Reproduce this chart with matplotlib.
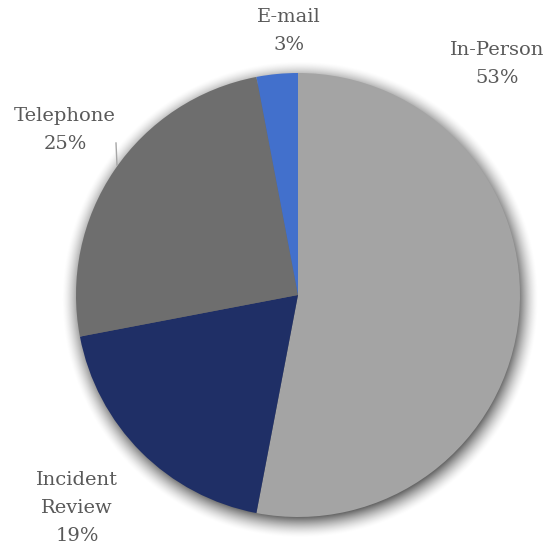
#!/usr/bin/env python3

import numpy as np
import matplotlib.pyplot as plt

labels = ['In-Person', 'Incident\nReview', 'Telephone', 'E-mail']
shares = [53, 19, 25, 3]
colors = ['#A4A4A4', '#1F2F66', '#6E6E6E', '#4270CC']

W, H = 557, 551
fig = plt.figure(figsize=(W / 100, H / 100), dpi=100)
fig.patch.set_facecolor('white')

# pie centred at (298, 295) px with radius 222 px, axes padded by 30%
cx, cy, r = 298, 295, 222
pad = 1.3
ax = fig.add_axes([(cx - pad * r) / W, (H - cy - pad * r) / H,
                   2 * pad * r / W, 2 * pad * r / H])
ax.axis('off')

# soft drop shadow behind the pie
g = np.linspace(-pad, pad, 600)
X, Y = np.meshgrid(g, g)
d = np.hypot(X - 0.01, Y + 0.02)
alpha = np.clip((1.075 - d) / 0.095, 0, 1) ** 1.6 * 0.6
shadow = np.zeros((600, 600, 4))
shadow[..., 3] = alpha
ax.imshow(shadow, extent=(-pad, pad, -pad, pad), origin='lower', zorder=0,
          interpolation='bilinear')

ax.pie(shares, colors=colors, startangle=90, counterclock=False, radius=1,
       wedgeprops=dict(linewidth=0), frame=False)
ax.set_xlim(-pad, pad)
ax.set_ylim(-pad, pad)
ax.set_aspect('equal')

txt = dict(fontsize=14, color='#595959', family='DejaVu Serif',
           ha='center', va='center', linespacing=1.72)
pct = ['%d%%' % s for s in shares]
fig.text(497 / W, 1 - 64 / H, labels[0] + '\n' + pct[0], **txt)
fig.text(289 / W, 1 - 31 / H, labels[3] + '\n' + pct[3], **txt)
fig.text(65 / W, 1 - 130 / H, labels[2] + '\n' + pct[2], **txt)
fig.text(77 / W, 1 - 508 / H, labels[1] + '\n' + pct[1], **txt)

# leader line for the telephone label
fig.add_artist(plt.Line2D([116 / W, 117 / W], [1 - 143 / H, 1 - 165 / H],
                          color='#A6A6A6', linewidth=1))

fig.savefig('out.png', dpi=100, facecolor='white')
